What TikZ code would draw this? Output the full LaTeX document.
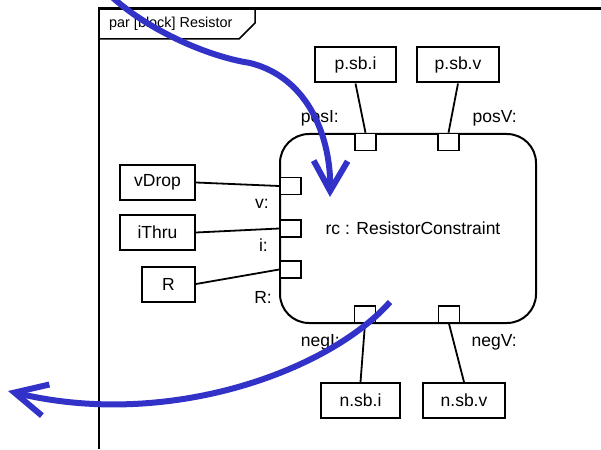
\documentclass[tikz,border=0pt]{standalone}
\usepackage{fontspec}
\setmainfont{Liberation Sans}
\usepackage{tikz}
\usetikzlibrary{arrows.meta,positioning}
\definecolor{flowblue}{RGB}{50,50,200}

\begin{document}
\begin{tikzpicture}[x=1pt, y=1pt, font=\fontsize{17.5}{20}\selectfont,
  prop/.style={draw, line width=2pt, minimum height=35pt, inner sep=0pt},
  port/.style={draw, line width=1.6pt, fill=white, minimum width=21pt, minimum height=17pt, inner sep=0pt},
  lbl/.style={inner sep=0pt, anchor=base east},
  flow/.style={draw=flowblue, line width=6pt}]
  \useasboundingbox (0,0) rectangle (601,-449);

  % frame and its tab
  \draw[line width=2.5pt] (99,-449) -- (99,-8.5) -- (601,-8.5);
  \draw[line width=1.5pt] (99,-8.5) -- (255,-8.5) -- (255,-23) -- (239,-39) -- (99,-39);
  \node[anchor=west, inner sep=0pt, font=\fontsize{14.4}{16}\selectfont] (tab) at (109,-24) {par [block] Resistor};

  % constraint block and its ports
  \node[draw, line width=2pt, rounded corners=29pt, minimum width=256pt, minimum height=189pt] (rc) at (408,-228.5) {\hspace*{10pt}rc : ResistorConstraint};
  \node[port] (posI) at (365.5,-142) {};
  \node[port] (posV) at (448.5,-142) {};
  \node[port] (v) at (290.5,-186) {};
  \node[port] (i) at (290.5,-228.5) {};
  \node[port] (Rp) at (290.5,-269.5) {};
  \node[port] (negI) at (365,-314.5) {};
  \node[port] (negV) at (449,-314.5) {};

  \node[lbl] (posIlbl) at (339,-123) {posI:};
  \node[lbl] (posVlbl) at (517,-123) {posV:};
  \node[lbl] (vlbl) at (269,-208) {v:};
  \node[lbl] (ilbl) at (268,-251) {i:};
  \node[lbl] (Rlbl) at (272,-303) {R:};
  \node[lbl] (negIlbl) at (340,-346) {negI:};
  \node[lbl] (negVlbl) at (517,-346) {negV:};

  % value properties
  \node[prop, minimum width=81pt] (psbi) at (355.5,-65) {p.sb.i};
  \node[prop, minimum width=82pt] (psbv) at (458,-65) {p.sb.v};
  \node[prop, minimum width=75pt] (vDrop) at (157.5,-182.5) {vDrop};
  \node[prop, minimum width=75pt] (iThru) at (157.5,-232.5) {iThru};
  \node[prop, minimum width=53pt] (R) at (168.5,-284) {R};
  \node[prop, minimum width=79pt] (nsbi) at (360.5,-400.5) {n.sb.i};
  \node[prop, minimum width=82pt] (nsbv) at (464,-400.5) {n.sb.v};

  \draw[line width=1.8pt] (psbi.south) -- (posI.north);
  \draw[line width=1.8pt] (psbv.south) -- (posV.north);
  \draw[line width=1.8pt] (vDrop.east) -- (v.west);
  \draw[line width=1.8pt] (iThru.east) -- (i.west);
  \draw[line width=1.8pt] (R.east) -- (Rp.west);
  \draw[line width=1.8pt] (negI.south) -- (nsbi.north);
  \draw[line width=1.8pt] (negV.south) -- (nsbv.north);

  % blue strokes on top
  \coordinate (inStart) at (111,4);
  \coordinate (inTip) at (330,-197);
  \coordinate (outStart) at (390,-302);
  \coordinate (outTip) at (8,-391);
  \draw[flow, -{Straight Barb[length=30pt, width=34pt]}] (inStart) .. controls (145,-28) and (205,-56) .. (250,-63) .. controls (310,-78) and (331,-140) .. (inTip);
  \draw[flow, -{Straight Barb[length=32pt, width=32pt]}] (outStart) .. controls (330,-370) and (170,-430) .. (outTip);
\end{tikzpicture}
\end{document}
